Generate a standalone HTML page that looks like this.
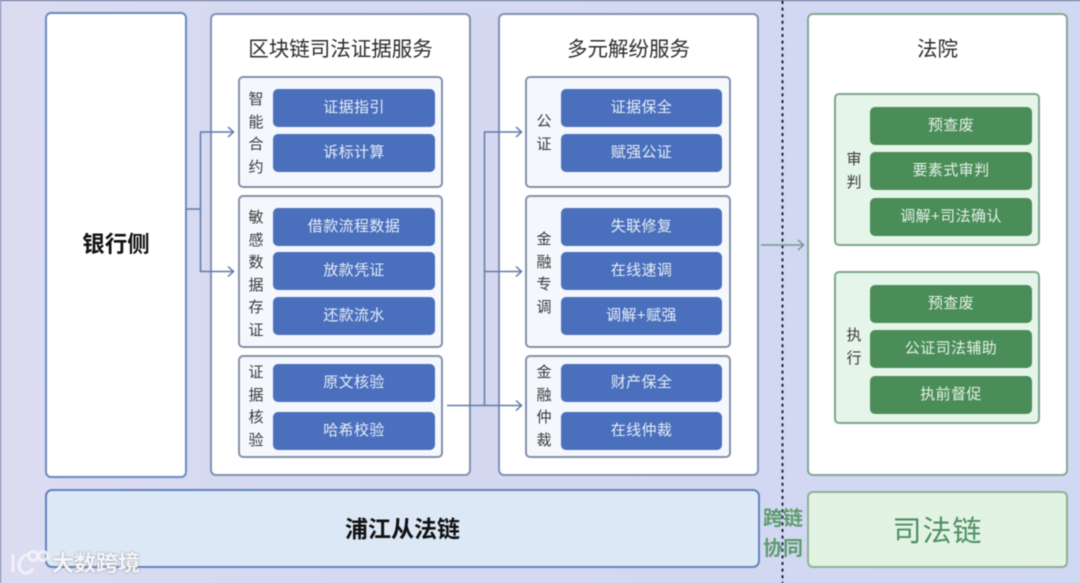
<!DOCTYPE html>
<html lang="zh">
<head>
<meta charset="utf-8">
<style>
html,body{margin:0;padding:0}
body{width:1080px;height:583px;overflow:hidden;position:relative;background:linear-gradient(90deg,#dcdcf1 0,#d5d9f1 25%,#d1d8f1 100%);font-family:"Liberation Sans","Noto Sans CJK SC",sans-serif;color:#333}
#w{left:0;top:0;width:1080px;height:583px;filter:blur(.4px)}
div{position:absolute;box-sizing:border-box}
.panel{background:#fff;border:2px solid #8291b2;border-radius:6px}
.sub{background:#f4f7fc;border:2px solid #8592aa;border-radius:5px;left:238px;width:205px}
.sub.r{left:525px;width:206px}
.sub.g{left:834px;width:206px;background:#e6f5ea;border-color:#7da68c}
.btn{left:273px;width:162px;height:38px;background:#4a70bd;border-radius:5px;color:#e6ecf7;font-size:15px;line-height:38px;text-align:center;letter-spacing:.4px}
.btn.r{left:561px;width:161px}
.btn.g{left:870px;width:162px;background:#4b8d59;color:#e4f1e6}
.t{font-size:20.500px;color:#2d2d2d;text-align:center;line-height:24px}
.v{font-size:15px;color:#3a3a3a;text-align:center;width:20px;line-height:22.500px}
</style>
</head>
<body>
<div id="w">
<div style="left:0;top:0;width:1080px;height:1px;background:#5f6a8c"></div>
<div style="left:0;top:0;width:1px;height:583px;background:#7a84a8"></div>

<div class="panel" style="left:45px;top:12px;width:142px;height:466px;border-color:#6a8bbd"></div>
<div class="t" style="left:45px;top:233px;width:142px;font-weight:bold;color:#111;font-size:22.500px">银行侧</div>

<div class="panel" style="left:210px;top:13px;width:261px;height:463px"></div>
<div class="t" style="left:210px;top:38px;width:261px">区块链司法证据服务</div>
<div class="panel" style="left:498px;top:13px;width:261px;height:463px"></div>
<div class="t" style="left:498px;top:38px;width:261px">多元解纷服务</div>
<div class="panel" style="left:807px;top:13px;width:261px;height:463px;border-color:#85a894"></div>
<div class="t" style="left:807px;top:38px;width:261px">法院</div>

<div class="sub" style="top:76px;height:112px"></div>
<div class="sub" style="top:195px;height:153px"></div>
<div class="sub" style="top:355px;height:103px"></div>
<div class="v" style="left:246px;top:89px">智<br>能<br>合<br>约</div>
<div class="v" style="left:246px;top:207px">敏<br>感<br>数<br>据<br>存<br>证</div>
<div class="v" style="left:246px;top:362px">证<br>据<br>核<br>验</div>
<div class="btn" style="top:89px">证据指引</div>
<div class="btn" style="top:134px">诉标计算</div>
<div class="btn" style="top:208px">借款流程数据</div>
<div class="btn" style="top:252px">放款凭证</div>
<div class="btn" style="top:297px">还款流水</div>
<div class="btn" style="top:364px">原文核验</div>
<div class="btn" style="top:412px">哈希校验</div>

<div class="sub r" style="top:76px;height:112px"></div>
<div class="sub r" style="top:195px;height:153px"></div>
<div class="sub r" style="top:355px;height:103px"></div>
<div class="v" style="left:534px;top:111px">公<br>证</div>
<div class="v" style="left:534px;top:229px">金<br>融<br>专<br>调</div>
<div class="v" style="left:534px;top:362px">金<br>融<br>仲<br>裁</div>
<div class="btn r" style="top:89px">证据保全</div>
<div class="btn r" style="top:134px">赋强公证</div>
<div class="btn r" style="top:208px">失联修复</div>
<div class="btn r" style="top:252px">在线速调</div>
<div class="btn r" style="top:297px">调解+赋强</div>
<div class="btn r" style="top:364px">财产保全</div>
<div class="btn r" style="top:412px">在线仲裁</div>

<div class="sub g" style="top:93px;height:153px"></div>
<div class="sub g" style="top:271px;height:153px"></div>
<div class="v" style="left:844px;top:149px">审<br>判</div>
<div class="v" style="left:844px;top:325px">执<br>行</div>
<div class="btn g" style="top:107px">预查废</div>
<div class="btn g" style="top:152px">要素式审判</div>
<div class="btn g" style="top:198px">调解+司法确认</div>
<div class="btn g" style="top:285px">预查废</div>
<div class="btn g" style="top:330px">公证司法辅助</div>
<div class="btn g" style="top:376px">执前督促</div>

<div style="left:45px;top:489px;width:715px;height:79px;background:#dde8f6;border:2px solid #6484bb;border-radius:7px"></div>
<div class="t" style="left:45px;top:517px;width:715px;font-weight:bold;color:#111;font-size:23px">浦江从法链</div>
<div style="left:807px;top:491px;width:261px;height:77px;background:#e2f3e3;border:2px solid #8db396;border-radius:6px"></div>
<div style="left:807px;top:512px;width:261px;text-align:center;font-size:29px;line-height:40px;color:#4f8f63;letter-spacing:1px">司法链</div>

<svg style="position:absolute;left:0;top:0" width="1080" height="583" fill="none">
<path d="M782.500 1V583" stroke="#1d2540" stroke-width="2" stroke-dasharray="3 3.600"/>
<g stroke="#5f7ba8" stroke-width="1.500">
<path d="M187 209H200.500M200.500 132V271.500M200 132H233M200 271.500H233"/>
<path d="M228 127L233.500 132L228 137M228 266.500L233.500 271.500L228 276.500"/>
<path d="M447 405.500H521M484.500 132V405.500M484 132H521M484 271.500H521"/>
<path d="M516 127L521.500 132L516 137M516 266.500L521.500 271.500L516 276.500M516 400.500L521.500 405.500L516 410.500"/>
</g>
<g stroke="#6f9a88" stroke-width="1.500">
<path d="M761 245H803M798 240L803.500 245L798 250"/>
</g>
<g stroke="#f4f4f8" stroke-opacity=".85" stroke-width="3">
<path d="M13 554V572"/>
<path d="M29 554C18 556 16 570 24 573C28 574 31 572 33 568"/>
<circle cx="33" cy="556" r="4.500"/>
<circle cx="43" cy="556" r="4.500"/>
</g>
</svg>

<div style="left:762px;top:504px;width:42px;font-size:20px;line-height:30px;font-weight:bold;color:#5d9b6d;text-align:center">跨链<br>协同</div>
<div style="left:52px;top:551px;font-size:22px;line-height:26px;font-weight:bold;color:#f6f6f8;white-space:nowrap;text-shadow:0 0 2px #8a8a94">大数跨境</div>
</div>
</body>
</html>
